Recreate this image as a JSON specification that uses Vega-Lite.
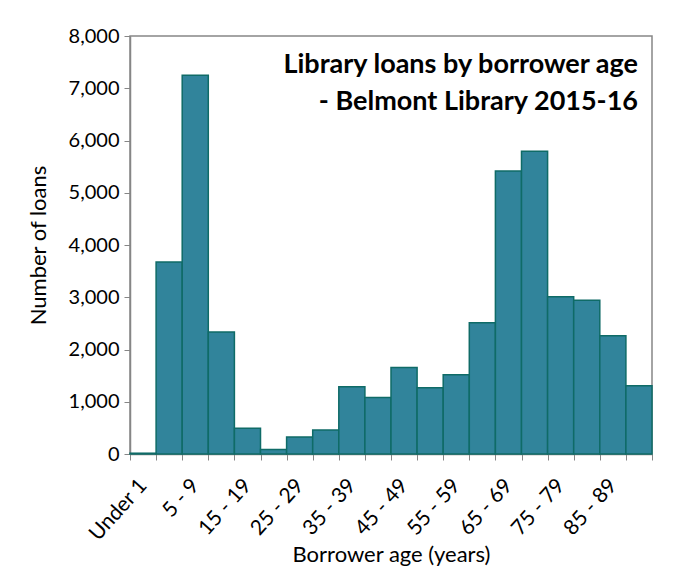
{
  "$schema": "https://vega.github.io/schema/vega-lite/v6.json",
  "autosize": "none",
  "width": 522,
  "height": 418,
  "padding": {"left": 130, "top": 36, "right": 28, "bottom": 115},
  "background": "white",
  "title": {
    "text": ["Library loans by borrower age", "- Belmont Library 2015-16"],
    "orient": "top",
    "anchor": "end",
    "frame": "group",
    "baseline": "top",
    "offset": -16,
    "dx": -14,
    "dy": 74,
    "font": "Lato",
    "fontSize": 27,
    "fontWeight": "bold",
    "color": "black",
    "lineHeight": 37
  },
  "data": {
    "values": [
      {"age": "Under 1", "loans": 15},
      {"age": "1 - 4", "loans": 3675},
      {"age": "5 - 9", "loans": 7250},
      {"age": "10 - 14", "loans": 2335},
      {"age": "15 - 19", "loans": 495},
      {"age": "20 - 24", "loans": 85},
      {"age": "25 - 29", "loans": 325},
      {"age": "30 - 34", "loans": 459},
      {"age": "35 - 39", "loans": 1287},
      {"age": "40 - 44", "loans": 1082},
      {"age": "45 - 49", "loans": 1657},
      {"age": "50 - 54", "loans": 1270},
      {"age": "55 - 59", "loans": 1518},
      {"age": "60 - 64", "loans": 2513},
      {"age": "65 - 69", "loans": 5416},
      {"age": "70 - 74", "loans": 5795},
      {"age": "75 - 79", "loans": 3011},
      {"age": "80 - 84", "loans": 2941},
      {"age": "85 - 89", "loans": 2265},
      {"age": "90+", "loans": 1308}
    ]
  },
  "mark": {"type": "bar", "fill": "#31849B", "stroke": "#0F6B67", "strokeWidth": 1.5},
  "encoding": {
    "x": {
      "field": "age",
      "type": "nominal",
      "sort": null,
      "scale": {"paddingInner": 0, "paddingOuter": 0},
      "axis": {
        "title": "Borrower age (years)",
        "titleFont": "Lato",
        "titleFontSize": 22,
        "titleFontWeight": "normal",
        "titleColor": "black",
        "titlePadding": 0,
        "labelFont": "Lato",
        "labelFontSize": 21,
        "labelColor": "black",
        "labelAngle": -48,
        "labelAlign": "right",
        "labelBaseline": "middle",
        "labelPadding": 22,
        "labelExpr": "indexof(['Under 1','5 - 9','15 - 19','25 - 29','35 - 39','45 - 49','55 - 59','65 - 69','75 - 79','85 - 89'], datum.value) >= 0 ? datum.value : ''",
        "labelOverlap": false,
        "tickBand": "extent",
        "tickSize": 6,
        "tickColor": "#868686",
        "domainColor": "#868686",
        "domainWidth": 1.5,
        "grid": false
      }
    },
    "y": {
      "field": "loans",
      "type": "quantitative",
      "scale": {"domain": [0, 8000], "nice": false},
      "axis": {
        "title": "Number of loans",
        "titleFont": "Lato",
        "titleFontSize": 22,
        "titleFontWeight": "normal",
        "titleColor": "black",
        "titlePadding": 18,
        "labelFont": "Lato",
        "labelFontSize": 20,
        "labelColor": "black",
        "labelPadding": 5,
        "values": [0, 1000, 2000, 3000, 4000, 5000, 6000, 7000, 8000],
        "format": ",d",
        "tickSize": 6,
        "tickColor": "#868686",
        "domainColor": "#868686",
        "domainWidth": 1.5,
        "grid": false
      }
    }
  },
  "config": {
    "view": {"stroke": "#868686", "strokeWidth": 1.5}
  }
}
